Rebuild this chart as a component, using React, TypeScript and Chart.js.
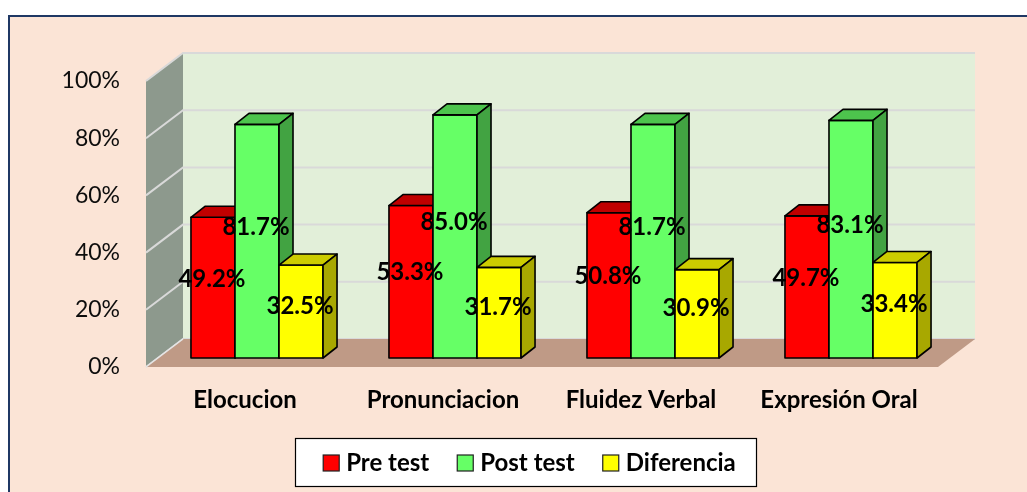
import React, { useEffect, useRef } from "react";
import { Chart, registerables } from "chart.js";

Chart.register(...registerables);

// ---- data ----
const categories = ["Elocucion", "Pronunciacion", "Fluidez Verbal", "Expresión Oral"];
const seriesNames = ["Pre test", "Post test", "Diferencia"];
const preTest = [49.2, 53.3, 50.8, 49.7];
const postTest = [81.7, 85.0, 81.7, 83.1];
const diferencia = [32.5, 31.7, 30.9, 33.4];
const yTickValues = [0, 20, 40, 60, 80, 100];

// ---- styles ----
const frontColors = ["#FF0000", "#66FF66", "#FFFF00"];
const topColors = ["#C00000", "#4DC44D", "#CCCC00"];
const sideColors = ["#A00000", "#42A342", "#A8A800"];
const FONT = "Lato, 'Open Sans', sans-serif";

// 3D offsets (px)
const WALL_DX = 37, WALL_DY = -28; // depth of the floor / walls
const BAR_OX = 12, BAR_OY = -9; // bar front plane offset from front
const BAR_DX = 14, BAR_DY = -11; // bar depth

const threeD = {
  id: "threeD",
  beforeDraw(chart: any) {
    const { ctx, chartArea } = chart;
    const W = chart.width, H = chart.height;
    ctx.save();
    ctx.fillStyle = "#FFFFFF";
    ctx.fillRect(0, 0, W, H);
    // outer box
    ctx.fillStyle = "#FBE4D6";
    ctx.fillRect(9, 16, W + 20, H + 20);
    ctx.strokeStyle = "#1F3864";
    ctx.lineWidth = 2;
    ctx.strokeRect(9, 16, W + 20, H + 20);

    const L = chartArea.left, R = chartArea.right, T = chartArea.top, B = chartArea.bottom;
    // back wall
    ctx.fillStyle = "#E2EFD9";
    ctx.fillRect(L + WALL_DX, T + WALL_DY, R - L, B - T);
    // left wall
    ctx.fillStyle = "#8D998D";
    ctx.beginPath();
    ctx.moveTo(L, B);
    ctx.lineTo(L, T);
    ctx.lineTo(L + WALL_DX, T + WALL_DY);
    ctx.lineTo(L + WALL_DX, B + WALL_DY);
    ctx.closePath();
    ctx.fill();
    // gridlines
    const ys = chart.scales.y;
    ctx.strokeStyle = "#D9D9D9";
    ctx.lineWidth = 2;
    yTickValues.forEach((v) => {
      const py = ys.getPixelForValue(v);
      ctx.beginPath();
      ctx.moveTo(L, py);
      ctx.lineTo(L + WALL_DX, py + WALL_DY);
      ctx.lineTo(R + WALL_DX, py + WALL_DY);
      ctx.stroke();
    });
    // floor
    ctx.fillStyle = "#BF9A86";
    ctx.beginPath();
    ctx.moveTo(L, B);
    ctx.lineTo(L + WALL_DX, B + WALL_DY);
    ctx.lineTo(R + WALL_DX, B + WALL_DY);
    ctx.lineTo(R, B);
    ctx.closePath();
    ctx.fill();
    ctx.strokeStyle = "#E6E6E6";
    ctx.lineWidth = 1.5;
    ctx.beginPath();
    ctx.moveTo(L, B);
    ctx.lineTo(L + WALL_DX, B + WALL_DY);
    ctx.stroke();
    ctx.restore();
  },
  beforeDatasetsDraw(chart: any) {
    const { ctx } = chart;
    const nCat = chart.data.labels.length;
    const nSet = chart.data.datasets.length;
    const labels: any[] = [];
    ctx.save();
    ctx.lineWidth = 1.6;
    ctx.lineJoin = "round";
    ctx.strokeStyle = "#000000";
    for (let i = 0; i < nCat; i++) {
      for (let d = 0; d < nSet; d++) {
        const el = chart.getDatasetMeta(d).data[i];
        const p = el.getProps(["x", "y", "base", "width"], true);
        const xl = p.x - p.width / 2 + BAR_OX;
        const xr = p.x + p.width / 2 + BAR_OX;
        const yt = p.y + BAR_OY;
        const yb = p.base + BAR_OY;
        // front
        ctx.fillStyle = frontColors[d];
        ctx.beginPath();
        ctx.rect(xl, yt, xr - xl, yb - yt);
        ctx.fill();
        ctx.stroke();
        // top
        ctx.fillStyle = topColors[d];
        ctx.beginPath();
        ctx.moveTo(xl, yt);
        ctx.lineTo(xl + BAR_DX, yt + BAR_DY);
        ctx.lineTo(xr + BAR_DX, yt + BAR_DY);
        ctx.lineTo(xr, yt);
        ctx.closePath();
        ctx.fill();
        ctx.stroke();
        // side
        ctx.fillStyle = sideColors[d];
        ctx.beginPath();
        ctx.moveTo(xr, yt);
        ctx.lineTo(xr + BAR_DX, yt + BAR_DY);
        ctx.lineTo(xr + BAR_DX, yb + BAR_DY);
        ctx.lineTo(xr, yb);
        ctx.closePath();
        ctx.fill();
        ctx.stroke();
        const v = chart.data.datasets[d].data[i];
        labels.push({ x: (xl + xr) / 2 - 1, y: yb - 0.56 * (yb - yt), text: v.toFixed(1) + "%" });
      }
    }
    ctx.fillStyle = "#000000";
    ctx.font = `bold 24px ${FONT}`;
    ctx.textAlign = "center";
    ctx.textBaseline = "middle";
    labels.forEach((l) => ctx.fillText(l.text, l.x, l.y));
    ctx.restore();
    return false;
  },
  afterDraw(chart: any) {
    const { ctx } = chart;
    ctx.save();
    const bx = 295, by = 438, bw = 461, bh = 48;
    ctx.fillStyle = "#FFFFFF";
    ctx.fillRect(bx, by, bw, bh);
    ctx.strokeStyle = "#000000";
    ctx.lineWidth = 1.2;
    ctx.strokeRect(bx + 0.5, by + 0.5, bw, bh);
    ctx.font = `bold 24px ${FONT}`;
    ctx.textBaseline = "middle";
    ctx.textAlign = "left";
    const sq = 16, sqGap = 7, itemGap = 28;
    const widths = chart.data.datasets.map((ds: any) => ctx.measureText(ds.label).width);
    const total = widths.reduce((a: number, w: number) => a + sq + sqGap + w, 0) + itemGap * (widths.length - 1);
    let x = bx + bw / 2 + 4 - total / 2;
    const cy = by + bh / 2 + 1;
    chart.data.datasets.forEach((ds: any, i: number) => {
      ctx.fillStyle = ds.backgroundColor;
      ctx.fillRect(x, cy - sq / 2, sq, sq);
      ctx.strokeStyle = "#202020";
      ctx.lineWidth = 1.2;
      ctx.strokeRect(x, cy - sq / 2, sq, sq);
      ctx.fillStyle = "#000000";
      ctx.fillText(ds.label, x + sq + sqGap, cy);
      x += sq + sqGap + widths[i] + itemGap;
    });
    ctx.restore();
  },
};

export default function App() {
  const ref = useRef<HTMLCanvasElement | null>(null);
  useEffect(() => {
    if (!ref.current) return;
    const chart = new Chart(ref.current, {
      type: "bar",
      data: {
        labels: categories,
        datasets: [
          { label: seriesNames[0], data: preTest, backgroundColor: frontColors[0] },
          { label: seriesNames[1], data: postTest, backgroundColor: frontColors[1] },
          { label: seriesNames[2], data: diferencia, backgroundColor: frontColors[2] },
        ],
      },
      options: {
        responsive: false,
        animation: false,
        devicePixelRatio: 1,
        layout: { padding: { left: 0, top: 81, right: 89, bottom: 0 } },
        datasets: { bar: { barPercentage: 1, categoryPercentage: 0.667 } },
        plugins: { legend: { display: false }, tooltip: { enabled: false } },
        scales: {
          x: {
            grid: { display: false, drawTicks: false },
            border: { display: false },
            ticks: {
              color: "#000000",
              font: { family: FONT, size: 24, weight: "bold" },
              padding: 19,
              maxRotation: 0,
              autoSkip: false,
            },
            afterFit: (s: any) => {
              s.height = 125;
            },
          },
          y: {
            min: 0,
            max: 100,
            grid: { display: false, drawTicks: false },
            border: { display: false },
            ticks: {
              stepSize: 20,
              color: "#0D0D0D",
              font: { family: FONT, size: 23 },
              padding: 26,
              callback: (v: any) => v + "%",
            },
            afterFit: (s: any) => {
              s.width = 146;
            },
          },
        },
      },
      plugins: [threeD],
    } as any);
    return () => chart.destroy();
  }, []);
  return (
    <div style={{ position: "fixed", left: 0, top: 0, width: 1027, height: 492 }}>
      <canvas ref={ref} width={1027} height={492} style={{ display: "block" }} />
    </div>
  );
}
